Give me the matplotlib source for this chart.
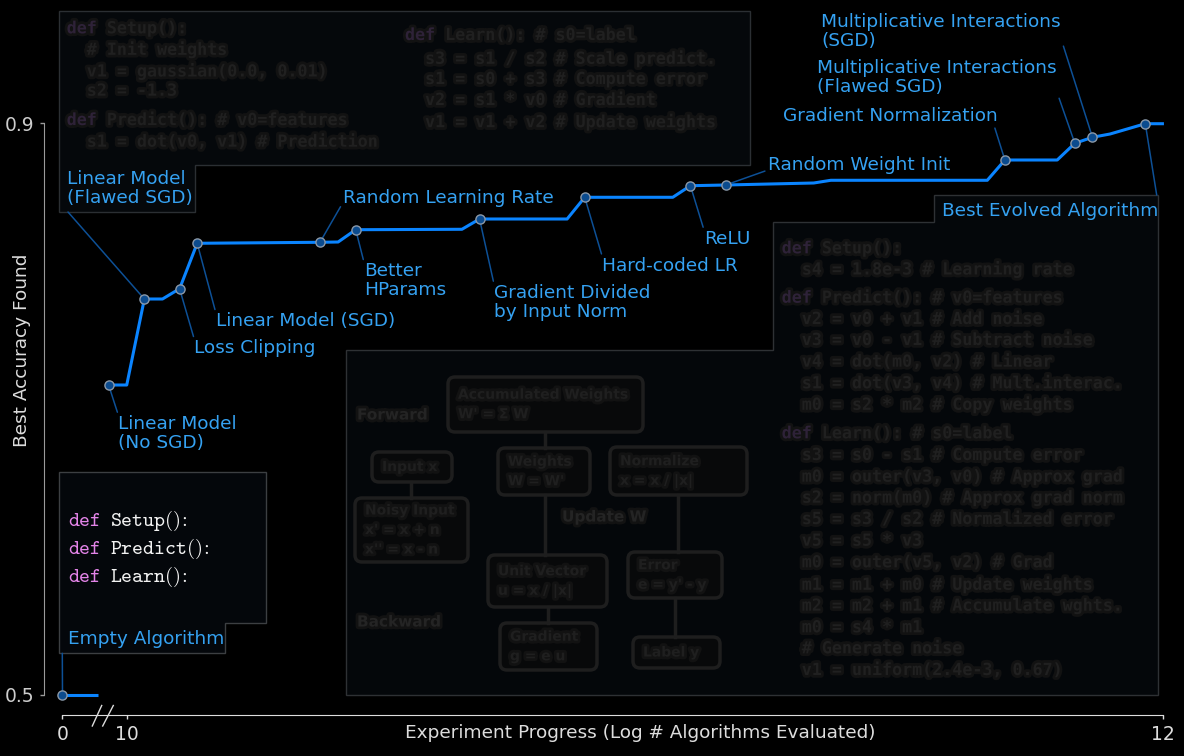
import numpy as np
import matplotlib.pyplot as plt
import matplotlib.patheffects as pe
from matplotlib.patches import Polygon, FancyBboxPatch
from matplotlib.transforms import Affine2D

W, H = 1184, 756

# x in axis units: 10..12 is the log scale, the two points left of the break are the "0" stub
progress = [9.876, 9.945, 9.965, 10.0, 10.034, 10.069, 10.102, 10.136, 10.373, 10.408,
            10.442, 10.647, 10.681, 10.850, 10.884, 11.054, 11.088, 11.156, 11.326, 11.359,
            11.661, 11.695, 11.796, 11.830, 11.864, 11.898, 11.966, 12.002]
accuracy = [0.5, 0.5, 0.7168, 0.7168, 0.777, 0.777, 0.7842, 0.816, 0.8167, 0.8169,
            0.8255, 0.8258, 0.833, 0.833, 0.8482, 0.8482, 0.8563, 0.8568, 0.8582, 0.8601,
            0.8601, 0.8743, 0.8743, 0.886, 0.8902, 0.8925, 0.8997, 0.8997]
n_before_break = 2

milestone_idx = [0, 2, 4, 6, 7, 8, 10, 12, 14, 16, 17, 21, 23, 24, 26]
milestone_names = ['Empty Algorithm', 'Linear Model\n(No SGD)', 'Linear Model\n(Flawed SGD)',
                   'Loss Clipping', 'Linear Model (SGD)', 'Random Learning Rate',
                   'Better\nHParams', 'Gradient Divided\nby Input Norm', 'Hard-coded LR',
                   'ReLU', 'Random Weight Init', 'Gradient Normalization',
                   'Multiplicative Interactions\n(Flawed SGD)',
                   'Multiplicative Interactions\n(SGD)', 'Best Evolved Algorithm']

x_ticks = [9.876, 10, 12]
x_tick_labels = ['0', '10', '12']
y_ticks = [0.5, 0.9]
y_tick_labels = ['0.5', '0.9']

# label placement in image pixels: text top-left, connector end (relpos) or a fixed point
label_layout = [
    ((67.7, 630), (62.3, 653.3)),
    ((118.3, 415), (0, 1)),
    ((66.7, 170), (68, 212)),
    ((194.3, 339.3), (0, 1)),
    ((215.7, 312.3), (0, 1)),
    ((343.3, 189.3), (0, 0.3)),
    ((364, 262.3), (0, 1)),
    ((494, 284), (0, 1)),
    ((602.3, 256.7), (0, 1)),
    ((704, 230), (0, 1)),
    ((767.7, 155.7), (0, 0.2)),
    ((782.7, 107.3), (0.98, 0.15)),
    ((816.7, 59.3), (0.97, 0.72)),
    ((821, 12.7), (0.98, 0.74)),
    ((941.7, 201.7), (1156.7, 195)),
]

# dimmed code shown in the panels
code_top_left = ["def Setup():", "  # Init weights", "  v1 = gaussian(0.0, 0.01)", "  s2 = -1.3",
                 "def Predict(): # v0=features", "  s1 = dot(v0, v1) # Prediction"]
code_top_left_y = [28.3, 49.3, 71, 90.7, 120, 141.7]
code_top_right = ["def Learn(): # s0=label", "  s3 = s1 / s2 # Scale predict.",
                  "  s1 = s0 + s3 # Compute error", "  v2 = s1 * v0 # Gradient",
                  "  v1 = v1 + v2 # Update weights"]
code_top_right_y = [35, 58.3, 79, 100, 121.7]
code_best = ["def Setup():", "  s4 = 1.8e-3 # Learning rate",
             "def Predict(): # v0=features", "  v2 = v0 + v1 # Add noise",
             "  v3 = v0 - v1 # Subtract noise", "  v4 = dot(m0, v2) # Linear",
             "  s1 = dot(v3, v4) # Mult.interac.", "  m0 = s2 * m2 # Copy weights",
             "def Learn(): # s0=label", "  s3 = s0 - s1 # Compute error",
             "  m0 = outer(v3, v0) # Approx grad", "  s2 = norm(m0) # Approx grad norm",
             "  s5 = s3 / s2 # Normalized error", "  v5 = s5 * v3",
             "  m0 = outer(v5, v2) # Grad", "  m1 = m1 + m0 # Update weights",
             "  m2 = m2 + m1 # Accumulate wghts.", "  m0 = s4 * m1",
             "  # Generate noise", "  v1 = uniform(2.4e-3, 0.67)"]
code_best_y = [248.3, 269, 297.7, 319, 340, 361.7, 383.3, 404.3, 433.3, 455, 476.7, 497.7,
               519, 540.7, 562.3, 584.3, 605.7, 627.3, 648.3, 670]
empty_code = ['Setup()', 'Predict()', 'Learn()']

# blurred diagram: (text, left, top, width, height)
diagram_boxes = [
    ("Accumulated Weights\nW' = \u03a3 W", 448, 377, 195, 55),
    ("Input x", 372, 452, 80, 30),
    ("Noisy Input\nx' = x + n\nx'' = x - n", 355, 498, 113, 64),
    ("Weights\nW = W'", 498, 448, 92, 47),
    ("Normalize\nx = x / |x|", 610, 447, 137, 48),
    ("Unit Vector\nu = x / |x|", 488, 555, 119, 52),
    ("Error\ne = y' - y", 628, 552, 94, 46),
    ("Gradient\ng = e u", 500, 623, 97, 47),
    ("Label y", 633, 637, 87, 31),
]
diagram_words = [("Forward", 357, 415), ("Backward", 357, 622), ("Update W", 562, 517)]
diagram_links = [((545, 432), (545, 448)), ((411, 482), (411, 498)), ((545, 495), (545, 555)),
                 ((678, 495), (678, 552)), ((675, 598), (675, 637)), ((548, 607), (548, 623))]

BLUE_LINE = '#0a84ff'
BLUE_TEXT = '#35a2f2'
CONN = '#0d5096'
DIM = '#202020'
FS = 13.3

fig = plt.figure(figsize=(W / 100, H / 100), dpi=100, facecolor='black')
ax = fig.add_axes([44 / W, (H - 715) / H, (1167 - 44) / W, (715 - 5) / H])
ax.set_facecolor('black')
ax.set_xlim(9.8403, 12.0079)
ax.set_ylim(0.4858, 0.9828)

# transform for image-pixel coordinates (y down)
px = Affine2D().scale(1 / W, -1 / H).translate(0, 1) + fig.transFigure

# panels
panel_kw = dict(closed=True, transform=px, clip_on=False, zorder=1)
ax.add_patch(Polygon([(59, 10.7), (750, 10.7), (750, 164.7), (195.3, 164.7), (195.3, 212), (59, 212)],
                     facecolor='#05080b', edgecolor='#2b2f33', lw=1, **panel_kw))
ax.add_patch(Polygon([(59.3, 472.3), (265.7, 472.3), (265.7, 622.7), (225, 622.7), (225, 653.3),
                      (59.3, 653.3)], facecolor='#04070b', edgecolor='#3c3f42', lw=1, **panel_kw))
ax.add_patch(Polygon([(934, 195), (1158.3, 195), (1158.3, 694.7), (346, 694.7), (346, 350),
                      (772.7, 350), (772.7, 221.7), (934, 221.7)],
                     facecolor='#04070a', edgecolor='#2e3134', lw=1, **panel_kw))

blur = [pe.withStroke(linewidth=4, foreground='#121212')]
dim_kw = dict(transform=px, family='DejaVu Sans Mono', weight='bold', fontsize=12,
              va='center', ha='left', zorder=2, clip_on=False, path_effects=blur)
CHAR_W = 0.602 * 12 * 100 / 72


def dim_code(lines, ys, x0):
    for s, y in zip(lines, ys):
        if s.startswith('def'):
            ax.text(x0, y, 'def', color='#2e2238', **dim_kw)
            ax.text(x0 + 4 * CHAR_W, y, s[4:], color=DIM, **dim_kw)
        else:
            ax.text(x0, y, s, color=DIM, **dim_kw)


dim_code(code_top_left, code_top_left_y, 66.7)
dim_code(code_top_right, code_top_right_y, 405)
dim_code(code_best, code_best_y, 781.7)

for s, x0, y0, w, h in diagram_boxes:
    ax.add_patch(FancyBboxPatch((x0, y0), w, h, boxstyle='round,pad=0,rounding_size=7',
                                transform=px, facecolor='#08090a', edgecolor='#1e1e1e',
                                lw=2.5, zorder=2, clip_on=False))
    ax.text(x0 + 10, y0 + h / 2, s, transform=px, color='#1f1f1f', fontsize=10, weight='bold',
            va='center', ha='left', linespacing=1.5, zorder=3, clip_on=False, path_effects=blur)
for s, x0, y0 in diagram_words:
    ax.text(x0, y0, s, transform=px, color='#242424', fontsize=11, weight='bold',
            va='center', ha='left', zorder=3, clip_on=False, path_effects=blur)
for (xa, ya), (xb, yb) in diagram_links:
    ax.plot([xa, xb], [ya, yb], transform=px, color='#1e1e1e', lw=2.5, zorder=2, clip_on=False)

# empty algorithm code
for i, name in enumerate(empty_code):
    yb = 525.7 + i * 28.3
    ax.text(67.7, yb, r'$\mathtt{def}$', transform=px, color='#e384e8', fontsize=15,
            va='baseline', math_fontfamily='cm', zorder=3)
    ax.text(110, yb, r'$\mathtt{' + name + r'\!:}$', transform=px, color='#f2f2f2',
            fontsize=15, va='baseline', math_fontfamily='cm', zorder=3)

# curve
ax.plot(progress[:n_before_break], accuracy[:n_before_break], color=BLUE_LINE, lw=2.2,
        zorder=4, solid_capstyle='butt')
ax.plot(progress[n_before_break:], accuracy[n_before_break:], color=BLUE_LINE, lw=2.2,
        zorder=4, solid_capstyle='butt')
mx = [progress[i] for i in milestone_idx]
my = [accuracy[i] for i in milestone_idx]
ax.plot(mx, my, 'o', ms=6.6, mfc='#0b4b8e', mec='#8a98a8', mew=1, zorder=6, clip_on=False)

# labels with connectors
for name, x, y, (tpos, conn) in zip(milestone_names, mx, my, label_layout):
    arrow = dict(arrowstyle='-', color=CONN, lw=1.1, shrinkA=0, shrinkB=0)
    if conn[0] > 1.5:
        ax.annotate(name, xy=tpos, xycoords=px, color=BLUE_TEXT, fontsize=FS, ha='left',
                    va='top', linespacing=1.08, zorder=5)
        ax.annotate('', xy=(x, y), xytext=conn, textcoords=px, arrowprops=arrow, zorder=5)
    else:
        arrow['relpos'] = conn
        ax.annotate(name, xy=(x, y), xytext=tpos, textcoords=px, color=BLUE_TEXT,
                    fontsize=FS, ha='left', va='top', linespacing=1.08, arrowprops=arrow, zorder=5)

# axes styling
for side in ['top', 'right']:
    ax.spines[side].set_visible(False)
ax.spines['left'].set_bounds(0.5, 0.9)
ax.spines['left'].set_color('#9a9a9a')
ax.spines['bottom'].set_bounds(x_ticks[0], x_ticks[-1])
ax.spines['bottom'].set_color('#dddddd')
ax.set_xticks(x_ticks, x_tick_labels)
ax.set_yticks(y_ticks, y_tick_labels)
ax.tick_params(axis='x', colors='#dddddd', labelsize=13.5, length=3, width=1, pad=4)
ax.tick_params(axis='y', colors='#cccccc', labelsize=13.5, length=3, width=1, pad=4)
ax.tick_params(axis='y', color='#9a9a9a')

# axis break marks
for xa, xb in [(92.3, 101.7), (102.7, 113.3)]:
    ax.plot([xa, xb], [726, 705.5], transform=px, color='#dddddd', lw=1, clip_on=False, zorder=6)

ax.set_xlabel('Experiment Progress (Log # Algorithms Evaluated)', color='#dddddd', fontsize=FS)
ax.xaxis.set_label_coords((640 - 44) / (1167 - 44), -0.0125)
ax.set_ylabel('Best Accuracy Found', color='#dddddd', fontsize=FS)
ax.yaxis.set_label_coords(-0.012, (715 - 350) / 710)

fig.savefig('out.png', dpi=100, facecolor='black')
